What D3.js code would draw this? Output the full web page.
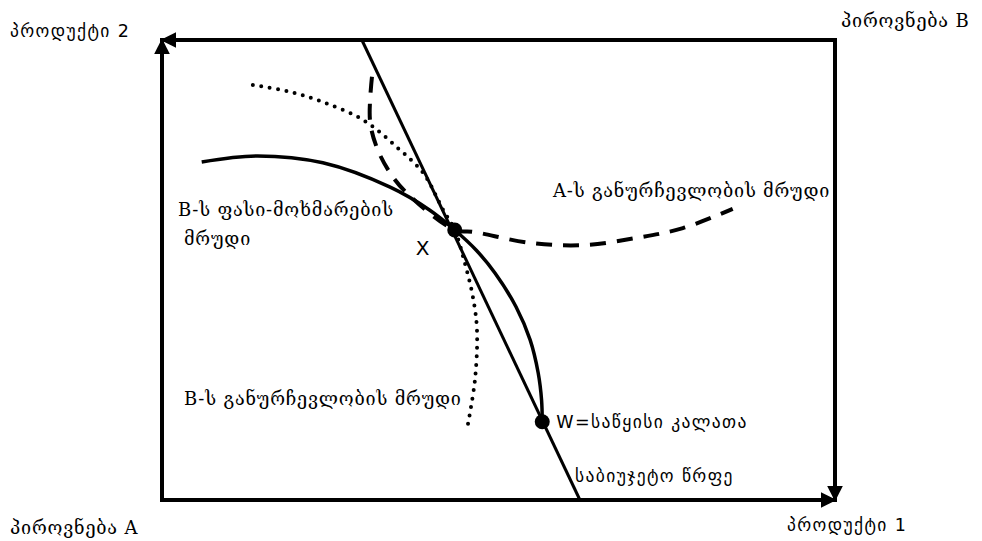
<!DOCTYPE html>
<html lang="ka">
<head>
<meta charset="UTF-8">
<title>Edgeworth box</title>
<script src="https://d3js.org/d3.v7.min.js"></script>
<style>
  body { margin: 0; background: #fff; }
  .serif { font-family: "DejaVu Serif", "Liberation Serif", serif; font-size: 18px; letter-spacing: 0.8px; }
  .sans { font-family: "DejaVu Sans", "Liberation Sans", sans-serif; font-size: 17.5px; letter-spacing: 1.4px; }
</style>
</head>
<body>
<svg width="982" height="541"></svg>
<script>
// curve points in box units (good 1 across, good 2 up, 0..100)
const budgetLine = [[29.7, 100], [62.1, 0]];
const priceConsumptionB = [[5.9, 73.5], [14.1, 74.8], [23.9, 73.3], [33.9, 68.0], [39.8, 63.0],
  [43.5, 58.7], [46.7, 54.3], [49.5, 49.3], [52.6, 42.0], [54.7, 34.8], [55.9, 27.6],
  [56.4, 21.7], [56.5, 17.0]];
const indifferenceA = [[31.2, 92.0], [30.9, 82.6], [31.9, 76.7], [33.9, 71.1], [36.4, 66.7],
  [43.5, 58.7], [46.2, 58.3], [54.7, 55.9], [62.6, 55.4], [70.6, 57.0], [77.4, 59.1], [84.8, 63.3]];
const indifferenceB = [[13.5, 90.2], [18.6, 88.9], [23.9, 86.5], [29.9, 82.6], [34.9, 76.7],
  [38.8, 71.1], [41.8, 63.0], [43.5, 58.7], [45.0, 51.5], [46.2, 44.1], [46.8, 37.0],
  [46.5, 26.1], [45.3, 15.2]];
const pointX = [43.5, 58.7];
const pointW = [56.5, 17.0];

const labelGood1 = "პროდუქტი 1";
const labelGood2 = "პროდუქტი 2";
const labelPersonA = "პიროვნება A";
const labelPersonB = "პიროვნება B";
const labelPriceConsumption = ["B-ს ფასი-მოხმარების", "მრუდი"];
const labelIndiffA = "A-ს განურჩევლობის მრუდი";
const labelIndiffB = "B-ს განურჩევლობის მრუდი";
const labelW = "W=საწყისი კალათა";
const labelBudget = "საბიუჯეტო წრფე";

const svg = d3.select("svg");
const x = d3.scaleLinear().domain([0, 100]).range([162, 835]);
const y = d3.scaleLinear().domain([0, 100]).range([500, 40]);

// arrowhead
svg.append("defs").append("marker")
  .attr("id", "arrow")
  .attr("viewBox", "0 0 10 10")
  .attr("refX", 9).attr("refY", 5)
  .attr("markerWidth", 4).attr("markerHeight", 4)
  .attr("markerUnits", "strokeWidth")
  .attr("orient", "auto")
  .append("path").attr("d", "M0,0 L10,5 L0,10 Z").attr("fill", "#000");

// box edges
const edges = [
  [[0, 0], [0, 100]],
  [[100, 100], [0, 100]],
  [[0, 0], [100, 0]],
  [[100, 100], [100, 0]]
];
edges.forEach(e => {
  svg.append("line")
    .attr("x1", x(e[0][0])).attr("y1", y(e[0][1]))
    .attr("x2", x(e[1][0])).attr("y2", y(e[1][1]))
    .attr("stroke", "#000").attr("stroke-width", 4)
    .attr("stroke-linecap", "square")
    .attr("marker-end", "url(#arrow)");
});

const line = d3.line().x(d => x(d[0])).y(d => y(d[1])).curve(d3.curveCatmullRom.alpha(0.5));

svg.append("path").datum(budgetLine)
  .attr("d", d3.line().x(d => x(d[0])).y(d => y(d[1])))
  .attr("fill", "none").attr("stroke", "#000").attr("stroke-width", 3);

svg.append("path").datum(priceConsumptionB)
  .attr("d", line)
  .attr("fill", "none").attr("stroke", "#000").attr("stroke-width", 3.5);

svg.append("path").datum(indifferenceA)
  .attr("d", line)
  .attr("fill", "none").attr("stroke", "#000").attr("stroke-width", 4)
  .attr("stroke-dasharray", "16,11");

svg.append("path").datum(indifferenceB)
  .attr("d", line)
  .attr("fill", "none").attr("stroke", "#000").attr("stroke-width", 4)
  .attr("stroke-linecap", "round")
  .attr("stroke-dasharray", "0,8.5");

[pointX, pointW].forEach(p => {
  svg.append("circle").attr("cx", x(p[0])).attr("cy", y(p[1])).attr("r", 7.5).attr("fill", "#000");
});

// labels
svg.append("text").attr("class", "sans").attr("x", 10).attr("y", 37).text(labelGood2);
svg.append("text").attr("class", "serif").attr("x", 841).attr("y", 27).text(labelPersonB);
svg.append("text").attr("class", "serif").attr("x", 10).attr("y", 534).text(labelPersonA);
svg.append("text").attr("class", "sans").attr("x", 787).attr("y", 531).text(labelGood1);

svg.append("text").attr("class", "serif").attr("x", 178).attr("y", 216).text(labelPriceConsumption[0]);
svg.append("text").attr("class", "serif").attr("x", 184).attr("y", 245).text(labelPriceConsumption[1]);
svg.append("text").attr("class", "sans").attr("x", x(pointX[0]) - 39).attr("y", y(pointX[1]) + 25)
  .style("font-size", "20px").style("letter-spacing", "0").text("X");
svg.append("text").attr("class", "serif").attr("x", 553).attr("y", 197).text(labelIndiffA);
svg.append("text").attr("class", "serif").attr("x", 184).attr("y", 405).text(labelIndiffB);
svg.append("text").attr("class", "sans").attr("x", x(pointW[0]) + 14).attr("y", y(pointW[1]) + 6).text(labelW);
svg.append("text").attr("class", "sans").attr("x", 575).attr("y", 482).text(labelBudget);
</script>
</body>
</html>
